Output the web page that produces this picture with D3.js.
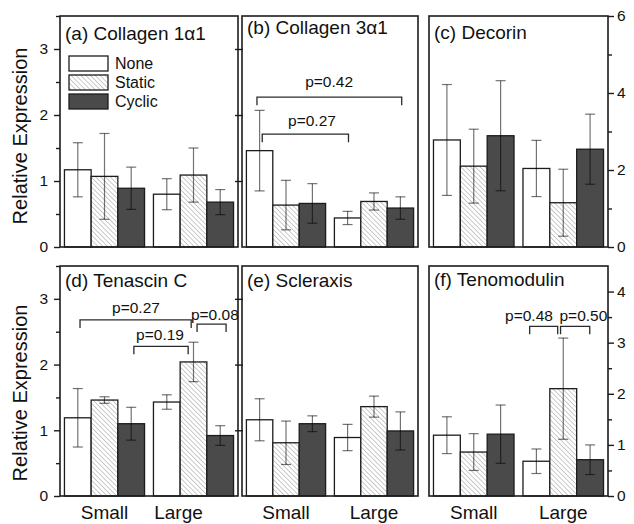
<!DOCTYPE html>
<html>
<head>
<meta charset="utf-8">
<script src="https://cdn.jsdelivr.net/npm/d3@7"></script>
<style>
  body { margin: 0; background: #fff; }
  text { font-family: "Liberation Sans", Arial, sans-serif; fill: #111; }
</style>
</head>
<body>
<div id="chart"></div>
<script>
// values
var groups = ['Small', 'Large'];
var series = ['None', 'Static', 'Cyclic'];
var panelTitles = ['(a) Collagen 1\u03b11', '(b) Collagen 3\u03b11', '(c) Decorin',
  '(d) Tenascin C', '(e) Scleraxis', '(f) Tenomodulin'];

// mean[panel][group][series]
var meanValues = [
  [[1.17, 1.07, 0.89], [0.80, 1.09, 0.68]],
  [[1.46, 0.635, 0.66], [0.44, 0.69, 0.59]],
  [[2.78, 2.10, 2.89], [2.04, 1.15, 2.54]],
  [[1.19, 1.46, 1.10], [1.43, 2.04, 0.92]],
  [[1.16, 0.81, 1.10], [0.89, 1.36, 0.99]],
  [[1.19, 0.86, 1.21], [0.68, 2.10, 0.71]]
];
var errValues = [
  [[0.41, 0.65, 0.32], [0.235, 0.41, 0.19]],
  [[0.61, 0.375, 0.30], [0.10, 0.13, 0.17]],
  [[1.44, 0.96, 1.43], [0.73, 0.87, 0.91]],
  [[0.445, 0.05, 0.25], [0.11, 0.30, 0.15]],
  [[0.32, 0.33, 0.12], [0.20, 0.16, 0.29]],
  [[0.36, 0.36, 0.57], [0.24, 0.99, 0.29]]
];
var yMax = [3.5, 3.5, 6, 3.5, 3.5, 4.5];
var leftTicks = [0, 1, 2, 3];
var leftMinor = [0.5, 1.5, 2.5, 3.5];
var decorinTicks = [0, 2, 4, 6];
var decorinMinor = [1, 3, 5];
var tenomodulinTicks = [0, 1, 2, 3, 4];
var tenomodulinMinor = [0.5, 1.5, 2.5, 3.5];

// significance brackets, x in group units (Small = 1, Large = 2)
var bracketPanel = [1, 1, 3, 3, 3, 5, 5];
var bracketLabel = ['p=0.42', 'p=0.27', 'p=0.27', 'p=0.19', 'p=0.08', 'p=0.48', 'p=0.50'];
var bracketX1 = [0.67, 0.73, 0.725, 1.33, 2.04, 1.625, 1.97];
var bracketX2 = [2.315, 1.71, 1.974, 1.94, 2.366, 1.938, 2.296];
var bracketY = [2.27, 1.71, 2.68, 2.277, 2.616, 3.32, 3.32];
var labelX = [1.49, 1.295, 1.354, 1.624, 2.24, 1.617, 2.225];
var labelY = [2.42, 1.83, 2.79, 2.38, 2.68, 3.43, 3.43];

var width = 634, height = 524;
var colLeft = [60, 242, 429], colWidth = [178, 176, 179];
var rowTop = [16, 266], rowHeight = [231, 230];
var titleBase = [40, 33.5, 39, 286.5, 286.5, 286];
var fills = ['#ffffff', 'url(#hatch)', '#4a4a4a'];

var svg = d3.select('#chart').append('svg').attr('width', width).attr('height', height);

var hatch = svg.append('defs').append('pattern')
  .attr('id', 'hatch')
  .attr('patternUnits', 'userSpaceOnUse')
  .attr('width', 3.4).attr('height', 3.4)
  .attr('patternTransform', 'rotate(-45)');
hatch.append('rect').attr('width', 3.4).attr('height', 3.4).attr('fill', '#fff');
hatch.append('line').attr('x1', 0).attr('y1', 0).attr('x2', 0).attr('y2', 3.4)
  .attr('stroke', '#8a8a8a').attr('stroke-width', 0.9);

function drawPanel(p) {
  var col = p % 3, row = Math.floor(p / 3);
  var x0 = colLeft[col], w = colWidth[col], y0 = rowTop[row], h = rowHeight[row];
  var g = svg.append('g');

  var x = d3.scaleBand().domain(groups).range([x0, x0 + w]).paddingInner(0.1).paddingOuter(0.05);
  var xs = d3.scaleBand().domain(series).range([0, x.bandwidth()]);
  var xLin = d3.scaleLinear().domain([0.5, 2.5]).range([x0, x0 + w]);
  var y = d3.scaleLinear().domain([0, yMax[p]]).range([y0 + h, y0]);

  var rows = [];
  groups.forEach(function(gr, gi) {
    series.forEach(function(s, si) {
      rows.push({ group: gr, series: s, si: si, v: meanValues[p][gi][si], e: errValues[p][gi][si] });
    });
  });

  g.selectAll('rect.bar').data(rows).enter().append('rect')
    .attr('class', 'bar')
    .attr('x', function(d) { return x(d.group) + xs(d.series); })
    .attr('width', xs.bandwidth())
    .attr('y', function(d) { return y(d.v); })
    .attr('height', function(d) { return y(0) - y(d.v); })
    .attr('fill', function(d) { return fills[d.si]; })
    .attr('stroke', '#1c1c1c')
    .attr('stroke-width', 1.3);

  var eb = g.selectAll('g.err').data(rows).enter().append('g')
    .attr('class', 'err')
    .attr('stroke', '#000')
    .attr('stroke-opacity', 0.55)
    .attr('stroke-width', 1.2);
  function cx(d) { return x(d.group) + xs(d.series) + xs.bandwidth() / 2; }
  eb.append('line')
    .attr('x1', cx).attr('x2', cx)
    .attr('y1', function(d) { return y(d.v + d.e); })
    .attr('y2', function(d) { return y(d.v - d.e); });
  eb.append('line')
    .attr('x1', function(d) { return cx(d) - 5; }).attr('x2', function(d) { return cx(d) + 5; })
    .attr('y1', function(d) { return y(d.v + d.e); }).attr('y2', function(d) { return y(d.v + d.e); });
  eb.append('line')
    .attr('x1', function(d) { return cx(d) - 5; }).attr('x2', function(d) { return cx(d) + 5; })
    .attr('y1', function(d) { return y(d.v - d.e); }).attr('y2', function(d) { return y(d.v - d.e); });

  // axes
  if (col === 0) {
    g.append('g').attr('transform', 'translate(' + x0 + ',0)')
      .call(d3.axisLeft(y).tickValues(leftTicks).tickSize(6).tickPadding(6).tickFormat(d3.format('d')));
    g.append('g').attr('transform', 'translate(' + x0 + ',0)')
      .call(d3.axisLeft(y).tickValues(leftMinor).tickSize(4).tickFormat(''));
    g.append('g').attr('transform', 'translate(' + (x0 + w) + ',0)')
      .call(d3.axisRight(y).tickValues([1, 2, 3]).tickSize(5).tickFormat(''))
      .selectAll('.tick line').attr('x1', -3);
  } else if (col === 2) {
    var major = p === 2 ? decorinTicks : tenomodulinTicks;
    var minor = p === 2 ? decorinMinor : tenomodulinMinor;
    g.append('g').attr('transform', 'translate(' + (x0 + w) + ',0)')
      .call(d3.axisRight(y).tickValues(major).tickSize(6).tickPadding(3).tickFormat(d3.format('d')));
    g.append('g').attr('transform', 'translate(' + (x0 + w) + ',0)')
      .call(d3.axisRight(y).tickValues(minor).tickSize(4).tickFormat(''));
  }
  g.selectAll('.domain').remove();
  g.selectAll('.tick line').attr('stroke', '#1c1c1c').attr('stroke-width', 1.4);
  g.selectAll('.tick text').style('font-size', '15.5px').attr('fill', '#111')
    .style('font-family', '"Liberation Sans", Arial, sans-serif');

  if (row === 1) {
    var xa = g.append('g').attr('transform', 'translate(0,' + (y0 + h) + ')')
      .call(d3.axisBottom(x).tickSize(0).tickPadding(9.5));
    xa.select('.domain').remove();
    xa.selectAll('text').style('font-size', '19px').attr('fill', '#111')
      .style('font-family', '"Liberation Sans", Arial, sans-serif');
    if (p === 3) xa.selectAll('.tick').filter(function(d) { return d === 'Large'; })
      .select('text').attr('dx', -15);
  }

  // frame
  g.append('rect').attr('x', x0).attr('y', y0).attr('width', w).attr('height', h)
    .attr('fill', 'none').attr('stroke', '#1c1c1c').attr('stroke-width', 1.6);

  g.append('text').attr('x', x0 + 5).attr('y', titleBase[p])
    .style('font-size', '19px').text(panelTitles[p]);

  // brackets
  bracketPanel.forEach(function(bp, i) {
    if (bp !== p) return;
    var yb = y(bracketY[i]);
    g.append('path')
      .attr('d', 'M' + xLin(bracketX1[i]) + ',' + (yb + 8) + 'V' + yb + 'H' + xLin(bracketX2[i]) + 'V' + (yb + 8))
      .attr('fill', 'none').attr('stroke', '#2a2a2a').attr('stroke-width', 1.3);
    g.append('text').attr('x', xLin(labelX[i])).attr('y', y(labelY[i]))
      .attr('text-anchor', 'middle').style('font-size', '15.5px').text(bracketLabel[i]);
  });

  // legend in panel (a)
  if (p === 0) {
    series.forEach(function(s, si) {
      var ly = 56 + si * 19;
      g.append('rect').attr('x', 69).attr('y', ly).attr('width', 39).attr('height', 15)
        .attr('fill', fills[si]).attr('stroke', '#1c1c1c').attr('stroke-width', 1.3);
      g.append('text').attr('x', 115).attr('y', ly + 13).style('font-size', '16px').text(s);
    });
  }
}

for (var p = 0; p < 6; p++) drawPanel(p);

// y axis titles
[136, 393].forEach(function(cy) {
  svg.append('text')
    .attr('transform', 'translate(27,' + cy + ') rotate(-90)')
    .attr('text-anchor', 'middle')
    .style('font-size', '20px')
    .text('Relative Expression');
});
</script>
</body>
</html>
